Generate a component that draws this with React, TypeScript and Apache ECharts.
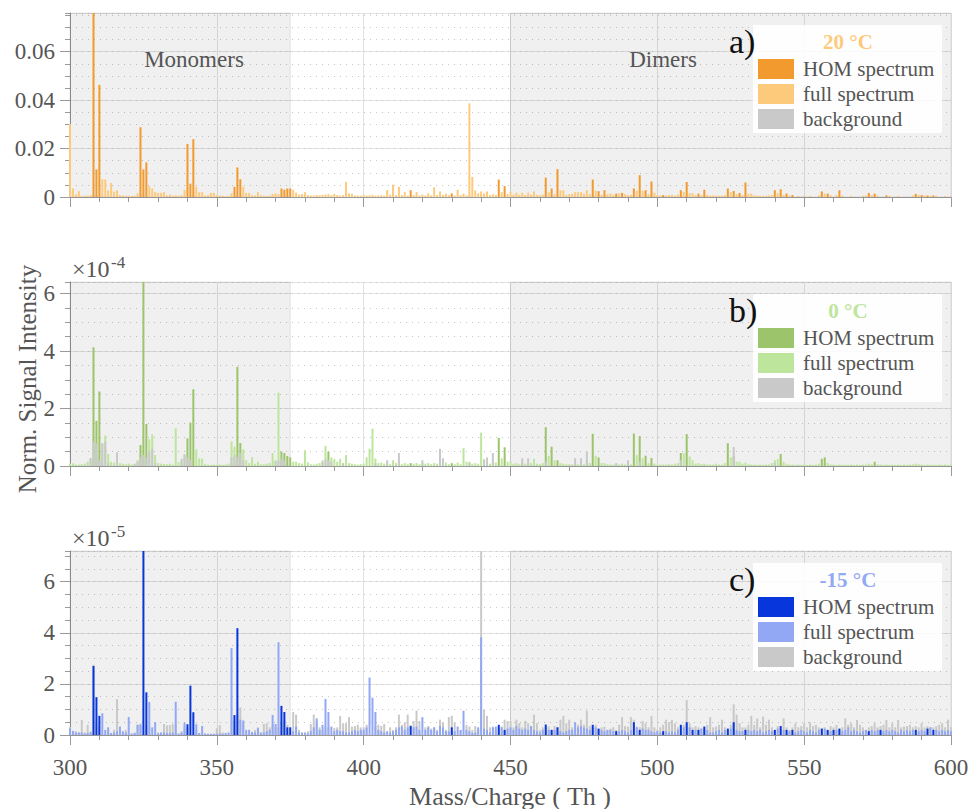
import React, { useEffect, useRef } from "react";
import * as echarts from "echarts";

// ---------- axis / label data ----------
const xMin = 300;
const xMax = 600;
const xMajor = 50;
const legendNames = ["HOM spectrum", "full spectrum", "background"];
const panelLetters = ["a)", "b)", "c)"];
const panelTitles = ["20 °C", "0 °C", "-15 °C"];
const yMaxes = [0.076, 6.4, 7.2];
const yMajorSteps = [0.02, 2, 2];
const yMinorSteps = [0.005, 0.5, 0.5];
const yExponents = ["", "-4", "-5"];
const regionNames = ["Monomers", "Dimers"];
const regionRanges = [
  [300, 375],
  [450, 600],
];

// ---------- panel a (20 °C), absolute values ----------
const aHom = [
  [308, 0.085], [309, 0.0114], [310, 0.0463], [324, 0.0288], [325, 0.0114], [326, 0.0143],
  [340, 0.0219], [341, 0.0055], [342, 0.0239], [356, 0.0042], [357, 0.0122], [358, 0.0073],
  [372, 0.0035], [373, 0.003], [374, 0.0035], [375, 0.0035], [416, 0.0028], [430, 0.0015],
  [446, 0.0072], [448, 0.0045], [462, 0.008], [464, 0.0035], [466, 0.0115], [478, 0.0072],
  [480, 0.0024], [482, 0.0028], [486, 0.0014], [488, 0.0017], [492, 0.0035], [494, 0.009],
  [496, 0.0028], [498, 0.0064], [502, 0.0008], [508, 0.0028], [510, 0.0062], [514, 0.0014],
  [516, 0.003], [524, 0.0035], [526, 0.0025], [528, 0.0017], [530, 0.006], [540, 0.0028],
  [542, 0.0032], [544, 0.0014], [546, 0.0008], [556, 0.0023], [558, 0.0014], [562, 0.0028],
  [572, 0.0017], [574, 0.0014], [578, 0.0007], [588, 0.0013], [590, 0.0008], [592, 0.0006],
  [594, 0.0006],
];
const aFull = [
  [300, 0.0302], [301, 0.0035], [302, 0.0011], [303, 0.0024], [304, 0.0005], [305, 0.0005],
  [306, 0.0006], [307, 0.0008], [311, 0.0073], [312, 0.0073], [313, 0.0028], [314, 0.0058],
  [315, 0.0023], [316, 0.0028], [317, 0.0008], [318, 0.0006], [319, 0.0005], [320, 0.0005],
  [321, 0.0004], [322, 0.0006], [323, 0.0015], [327, 0.0044], [328, 0.0035], [329, 0.002],
  [330, 0.0017], [331, 0.0017], [332, 0.002], [333, 0.0007], [334, 0.001], [335, 0.0005],
  [336, 0.0007], [337, 0.0006], [338, 0.0008], [339, 0.003], [343, 0.0042], [344, 0.002],
  [345, 0.002], [346, 0.0006], [347, 0.0008], [348, 0.0017], [349, 0.0017], [350, 0.0007],
  [351, 0.0006], [352, 0.0005], [353, 0.0004], [354, 0.0005], [355, 0.0015], [359, 0.0042],
  [360, 0.0017], [361, 0.0017], [362, 0.0007], [363, 0.0006], [364, 0.002], [365, 0.0006],
  [366, 0.0005], [367, 0.0004], [368, 0.0006], [369, 0.0013], [370, 0.0015], [371, 0.0012],
  [376, 0.003], [377, 0.0018], [378, 0.001], [379, 0.0012], [380, 0.002], [381, 0.0008],
  [382, 0.0006], [383, 0.0006], [384, 0.0008], [385, 0.0007], [386, 0.0009], [387, 0.001],
  [388, 0.0012], [389, 0.0007], [390, 0.0013], [391, 0.0008], [392, 0.0006], [393, 0.0008],
  [394, 0.0062], [395, 0.0015], [396, 0.0013], [397, 0.0006], [398, 0.0006], [399, 0.0005],
  [400, 0.0008], [401, 0.0006], [402, 0.0007], [403, 0.0009], [404, 0.0005], [405, 0.0006],
  [406, 0.0007], [407, 0.0006], [408, 0.0028], [409, 0.001], [410, 0.0051], [411, 0.0008],
  [412, 0.0042], [413, 0.0008], [414, 0.002], [415, 0.0006], [417, 0.0008], [418, 0.002],
  [419, 0.0006], [420, 0.001], [421, 0.0006], [422, 0.0015], [423, 0.0007], [424, 0.004],
  [425, 0.0008], [426, 0.0023], [427, 0.0009], [428, 0.0014], [429, 0.0007], [431, 0.0006],
  [432, 0.003], [433, 0.0008], [434, 0.0014], [435, 0.0007], [436, 0.0387], [437, 0.0083],
  [438, 0.0027], [439, 0.0015], [440, 0.0023], [441, 0.0015], [442, 0.0023], [443, 0.0008],
  [444, 0.0012], [445, 0.0009], [447, 0.002], [449, 0.0012], [450, 0.002], [451, 0.001],
  [452, 0.0018], [453, 0.0009], [454, 0.0018], [455, 0.0008], [456, 0.0018], [457, 0.001],
  [458, 0.0023], [459, 0.0009], [460, 0.0008], [461, 0.001], [463, 0.002], [465, 0.0012],
  [467, 0.0028], [468, 0.0028], [469, 0.0009], [470, 0.0012], [471, 0.0014], [472, 0.002],
  [473, 0.002], [474, 0.002], [475, 0.0014], [476, 0.0028], [477, 0.0012], [479, 0.0026],
  [481, 0.0009], [483, 0.0012], [484, 0.0015], [485, 0.0009], [487, 0.0015], [489, 0.0012],
  [490, 0.0008], [491, 0.0009], [493, 0.0026], [495, 0.0026], [497, 0.0012], [499, 0.0018],
  [500, 0.0008], [501, 0.0006], [503, 0.0006], [504, 0.0008], [505, 0.0009], [506, 0.0006],
  [507, 0.001], [509, 0.0021], [511, 0.0016], [512, 0.0016], [513, 0.0008], [515, 0.0008],
  [517, 0.0009], [518, 0.0006], [519, 0.0007], [520, 0.0006], [521, 0.0005], [522, 0.0006],
  [523, 0.0008], [525, 0.002], [527, 0.0012], [529, 0.0008], [531, 0.0014], [532, 0.0014],
  [533, 0.0007], [534, 0.0006], [535, 0.0005], [536, 0.0005], [537, 0.0005], [538, 0.0006],
  [539, 0.0008], [541, 0.0016], [543, 0.0009], [545, 0.0006], [548, 0.0004], [550, 0.0005],
  [552, 0.0004], [555, 0.0007], [557, 0.0014], [559, 0.0007], [561, 0.0008], [563, 0.0006],
  [566, 0.0004], [570, 0.0005], [571, 0.0006], [573, 0.0008], [575, 0.0006], [579, 0.0005],
  [582, 0.0004], [587, 0.0006], [589, 0.0008], [591, 0.0006], [593, 0.0005], [595, 0.0005],
  [598, 0.0004],
];
const aBg = [
  [308, 0.0006], [310, 0.0004], [325, 0.0005], [342, 0.0004], [357, 0.0004], [436, 0.0006],
  [440, 0.0008], [510, 0.0003],
];

// ---------- panel b (0 °C), values in 1e-4 ----------
const bHom = [
  [308, 4.13], [309, 1.57], [310, 2.59], [324, 0.73], [325, 6.6], [326, 1.46], [340, 0.96],
  [341, 1.51], [342, 2.67], [357, 3.45], [358, 0.8], [372, 0.5], [373, 0.45], [374, 0.35],
  [375, 0.3], [388, 0.5], [416, 0.1], [430, 0.1], [446, 0.98], [448, 0.65], [462, 1.35],
  [464, 0.67], [466, 0.2], [478, 1.12], [480, 0.3], [492, 1.13], [494, 1.04], [496, 0.36],
  [498, 0.28], [508, 0.45], [510, 1.11], [524, 0.79], [526, 0.35], [542, 0.42], [556, 0.25],
  [557, 0.3], [574, 0.15],
];
const bFull = [
  [300, 0.09], [301, 0.09], [302, 0.05], [303, 0.05], [304, 0.06], [305, 0.08], [306, 0.15],
  [307, 0.27], [311, 0.79], [312, 1.06], [313, 0.42], [314, 0.15], [315, 0.12], [316, 0.47],
  [317, 0.1], [318, 0.08], [319, 0.06], [320, 0.09], [321, 0.05], [322, 0.06], [323, 0.2],
  [327, 0.93], [328, 1.1], [329, 0.38], [330, 0.1], [331, 0.08], [332, 0.07], [333, 0.06],
  [334, 0.08], [335, 0.05], [336, 1.31], [337, 0.13], [338, 0.13], [339, 0.4], [343, 0.58],
  [344, 0.26], [345, 0.26], [346, 0.06], [347, 0.05], [348, 0.04], [349, 0.05], [350, 0.04],
  [351, 0.05], [352, 0.04], [353, 0.05], [354, 0.08], [355, 0.85], [356, 0.67], [359, 0.58],
  [360, 0.2], [361, 0.1], [362, 0.3], [363, 0.08], [364, 0.15], [365, 0.06], [366, 0.06],
  [367, 0.08], [368, 0.1], [369, 0.45], [370, 0.2], [371, 2.55], [376, 0.15], [377, 0.15],
  [378, 0.1], [379, 0.08], [380, 0.55], [381, 0.13], [382, 0.06], [383, 0.05], [384, 0.08],
  [385, 0.1], [386, 0.2], [387, 0.7], [389, 0.3], [390, 0.25], [391, 0.15], [392, 0.25],
  [393, 0.1], [394, 0.38], [395, 0.1], [396, 0.08], [397, 0.06], [398, 0.05], [399, 0.06],
  [400, 0.08], [401, 0.3], [402, 0.6], [403, 1.3], [404, 0.26], [405, 0.1], [406, 0.12],
  [407, 0.08], [408, 0.1], [409, 0.06], [410, 0.2], [411, 0.1], [412, 0.15], [413, 0.06],
  [414, 0.1], [415, 0.06], [417, 0.08], [418, 0.1], [419, 0.06], [420, 0.1], [421, 0.08],
  [422, 0.1], [423, 0.06], [424, 0.1], [425, 0.08], [426, 0.35], [427, 0.15], [428, 0.12],
  [429, 0.06], [431, 0.06], [432, 0.12], [433, 0.06], [434, 0.62], [435, 0.15], [436, 0.15],
  [437, 0.08], [438, 0.1], [439, 0.08], [440, 1.16], [441, 0.24], [442, 0.2], [443, 0.08],
  [444, 0.15], [445, 0.12], [447, 0.27], [449, 0.15], [450, 0.15], [451, 0.08], [452, 0.1],
  [453, 0.06], [454, 0.1], [455, 0.08], [456, 0.12], [457, 0.1], [458, 0.25], [459, 0.08],
  [460, 0.06], [461, 0.1], [463, 0.35], [465, 0.2], [467, 0.1], [468, 0.08], [469, 0.06],
  [470, 0.06], [471, 0.06], [472, 0.08], [473, 0.06], [474, 0.08], [475, 0.06], [476, 0.2],
  [477, 0.1], [479, 0.36], [481, 0.1], [482, 0.1], [483, 0.06], [484, 0.05], [485, 0.05],
  [486, 0.08], [487, 0.05], [488, 0.08], [489, 0.05], [490, 0.08], [491, 0.06], [493, 0.38],
  [495, 0.27], [497, 0.1], [499, 0.08], [500, 0.05], [501, 0.05], [502, 0.05], [503, 0.05],
  [504, 0.06], [505, 0.05], [506, 0.08], [507, 0.1], [509, 0.45], [511, 0.33], [512, 0.2],
  [513, 0.08], [514, 0.1], [515, 0.06], [516, 0.08], [517, 0.05], [518, 0.05], [519, 0.05],
  [520, 0.08], [521, 0.05], [522, 0.05], [523, 0.1], [525, 0.3], [527, 0.15], [528, 0.15],
  [529, 0.08], [530, 0.12], [531, 0.06], [532, 0.05], [533, 0.05], [534, 0.04], [535, 0.05],
  [536, 0.04], [537, 0.05], [538, 0.05], [539, 0.1], [540, 0.2], [541, 0.24], [543, 0.15],
  [544, 0.08], [545, 0.05], [546, 0.05], [547, 0.04], [548, 0.05], [549, 0.04], [550, 0.05],
  [551, 0.04], [552, 0.05], [553, 0.04], [554, 0.05], [555, 0.08], [558, 0.1], [559, 0.05],
  [560, 0.05], [561, 0.04], [562, 0.05], [563, 0.04], [564, 0.05], [565, 0.04], [566, 0.05],
  [567, 0.04], [568, 0.05], [569, 0.04], [570, 0.05], [571, 0.05], [572, 0.08], [573, 0.06],
  [575, 0.06], [576, 0.05], [577, 0.04], [578, 0.05], [579, 0.04], [580, 0.05], [581, 0.04],
  [582, 0.05], [583, 0.04], [584, 0.05], [585, 0.04], [586, 0.05], [587, 0.06], [588, 0.08],
  [589, 0.06], [590, 0.05], [591, 0.04], [592, 0.05], [593, 0.04], [594, 0.05], [595, 0.04],
  [596, 0.05], [597, 0.04], [598, 0.05], [599, 0.04], [600, 0.05],
];
const bBg = [
  [307, 0.27], [308, 0.85], [309, 0.79], [310, 0.2], [311, 0.79], [312, 0.85], [313, 0.1],
  [316, 0.47], [322, 0.08], [323, 0.15], [324, 0.3], [325, 0.38], [326, 0.3], [327, 0.5],
  [328, 0.6], [329, 0.1], [338, 0.25], [339, 0.4], [340, 0.3], [341, 0.2], [355, 0.3],
  [356, 0.38], [357, 0.3], [358, 0.45], [359, 0.2], [370, 0.15], [371, 0.2], [372, 0.25],
  [373, 0.2], [386, 0.15], [387, 0.25], [388, 0.2], [389, 0.15], [393, 0.1], [404, 0.1],
  [408, 0.2], [412, 0.45], [420, 0.2], [426, 0.6], [427, 0.27], [436, 0.1], [441, 0.2],
  [442, 0.3], [444, 0.45], [454, 0.27], [456, 0.27], [462, 0.15], [472, 0.27], [474, 0.27],
  [476, 0.5], [486, 0.1], [490, 0.2], [494, 0.15], [508, 0.2], [526, 0.66], [540, 0.1],
];

// ---------- panel c (-15 °C), values in 1e-5 ----------
const cHom = [
  [308, 2.7], [309, 1.48], [310, 0.75], [325, 7.6], [326, 1.67], [340, 0.42], [341, 1.93],
  [342, 0.89], [356, 0.78], [357, 4.18], [372, 1.14], [373, 0.9], [374, 0.3], [375, 0.3],
  [416, 0.35], [430, 0.3], [446, 0.4], [448, 0.2], [462, 0.41], [464, 0.2], [466, 0.3],
  [478, 0.4], [480, 0.25], [486, 0.15], [492, 0.5], [494, 0.2], [502, 0.15], [508, 0.4],
  [510, 0.5], [512, 0.2], [514, 0.2], [516, 0.33], [524, 0.25], [526, 0.5], [530, 0.2],
  [540, 0.2], [542, 0.35], [544, 0.2], [546, 0.2], [556, 0.25], [558, 0.2], [560, 0.2],
  [562, 0.25], [572, 0.15], [576, 0.2], [588, 0.2], [592, 0.25], [594, 0.2],
];
const cFull = [
  [300, 0.26], [301, 0.16], [302, 0.1], [303, 0.1], [304, 0.1], [305, 0.06], [306, 0.08],
  [307, 0.1], [311, 0.85], [312, 0.2], [313, 0.3], [314, 0.08], [315, 0.1], [316, 0.15],
  [317, 0.33], [318, 0.15], [319, 0.1], [320, 0.7], [321, 0.06], [322, 0.08], [323, 0.4],
  [324, 0.4], [327, 1.29], [328, 0.3], [329, 0.5], [330, 0.06], [331, 0.1], [332, 0.1],
  [333, 0.08], [334, 0.08], [335, 0.1], [336, 1.3], [337, 0.06], [338, 0.1], [339, 0.48],
  [343, 0.42], [344, 0.08], [345, 0.35], [346, 0.06], [347, 0.05], [348, 0.05], [349, 0.05],
  [350, 0.05], [351, 0.06], [352, 0.05], [353, 0.08], [354, 0.1], [355, 3.4], [358, 0.6],
  [359, 0.57], [360, 0.2], [361, 0.2], [362, 0.12], [363, 0.1], [364, 0.27], [365, 0.1],
  [366, 0.1], [367, 0.15], [368, 0.2], [369, 0.78], [370, 0.43], [371, 3.63], [376, 0.15],
  [377, 0.33], [378, 0.1], [379, 0.1], [380, 0.1], [381, 0.06], [382, 0.15], [383, 0.3],
  [384, 0.65], [385, 0.2], [386, 0.4], [387, 1.41], [388, 0.9], [389, 0.33], [390, 0.15],
  [391, 0.2], [392, 0.15], [393, 0.15], [394, 0.1], [395, 0.1], [396, 0.15], [397, 0.2],
  [398, 0.15], [399, 0.2], [400, 0.2], [401, 0.3], [402, 2.25], [403, 1.46], [404, 0.9],
  [405, 0.2], [406, 0.15], [407, 0.1], [408, 0.15], [409, 0.1], [410, 0.15], [411, 0.2],
  [412, 0.3], [413, 0.33], [414, 0.2], [415, 0.3], [417, 0.3], [418, 0.33], [419, 0.2],
  [420, 0.7], [421, 0.2], [422, 0.3], [423, 0.2], [424, 0.3], [425, 0.15], [426, 0.35],
  [427, 0.3], [428, 0.15], [429, 0.15], [431, 0.15], [432, 0.33], [433, 0.2], [434, 0.95],
  [435, 0.2], [436, 0.15], [437, 0.08], [438, 0.1], [439, 0.3], [440, 3.82], [441, 0.25],
  [442, 0.2], [443, 0.1], [444, 0.3], [445, 0.33], [447, 0.3], [449, 0.25], [450, 0.3],
  [451, 0.2], [452, 0.35], [453, 0.25], [454, 0.2], [455, 0.25], [456, 0.2], [457, 0.35],
  [458, 0.2], [459, 0.15], [460, 0.1], [461, 0.2], [463, 0.2], [465, 0.2], [467, 0.15],
  [468, 0.1], [469, 0.15], [470, 0.2], [471, 0.2], [472, 0.5], [473, 0.3], [474, 0.35],
  [475, 0.3], [476, 0.25], [477, 0.2], [479, 0.3], [481, 0.2], [482, 0.15], [483, 0.2],
  [484, 0.2], [485, 0.15], [487, 0.15], [488, 0.2], [489, 0.15], [490, 0.1], [491, 0.2],
  [493, 0.3], [495, 0.25], [496, 0.2], [497, 0.2], [498, 0.15], [499, 0.1], [500, 0.15],
  [501, 0.1], [503, 0.15], [504, 0.1], [505, 0.15], [506, 0.1], [507, 0.2], [509, 0.3],
  [511, 0.3], [513, 0.2], [515, 0.25], [517, 0.2], [518, 0.1], [519, 0.1], [520, 0.15],
  [521, 0.2], [522, 0.1], [523, 0.2], [525, 0.25], [527, 0.2], [528, 0.15], [529, 0.15],
  [531, 0.2], [532, 0.15], [533, 0.2], [534, 0.15], [535, 0.2], [536, 0.1], [537, 0.15],
  [538, 0.2], [539, 0.15], [541, 0.25], [543, 0.2], [545, 0.15], [547, 0.1], [548, 0.15],
  [549, 0.2], [550, 0.15], [551, 0.1], [552, 0.2], [553, 0.15], [554, 0.1], [555, 0.2],
  [557, 0.25], [559, 0.15], [561, 0.2], [563, 0.15], [564, 0.2], [565, 0.3], [566, 0.15],
  [567, 0.2], [568, 0.15], [569, 0.1], [570, 0.15], [571, 0.2], [573, 0.2], [574, 0.15],
  [575, 0.2], [577, 0.15], [578, 0.2], [579, 0.15], [580, 0.2], [581, 0.15], [582, 0.1],
  [583, 0.2], [584, 0.15], [585, 0.2], [586, 0.15], [587, 0.2], [589, 0.15], [590, 0.2],
  [591, 0.15], [593, 0.3], [595, 0.2], [596, 0.15], [597, 0.2], [598, 0.15], [599, 0.2],
  [600, 0.15],
];
const cBg = [
  [300, 0.3], [302, 0.15], [303, 0.1], [304, 0.59], [305, 0.1], [306, 0.4], [307, 0.15],
  [308, 2.75], [309, 0.46], [310, 0.33], [313, 0.2], [315, 0.2], [316, 1.4], [317, 0.1],
  [319, 0.2], [322, 0.1], [323, 0.4], [324, 0.45], [326, 0.4], [327, 0.3], [330, 0.1],
  [332, 0.43], [333, 0.38], [334, 0.38], [335, 0.43], [336, 0.4], [338, 0.15], [339, 0.3],
  [340, 0.3], [343, 0.2], [350, 0.26], [351, 0.38], [352, 0.1], [355, 0.6], [356, 0.55],
  [357, 0.8], [358, 1.08], [359, 0.4], [363, 0.2], [364, 0.3], [366, 0.43], [367, 0.46],
  [368, 0.3], [369, 0.4], [370, 0.3], [371, 0.3], [372, 0.5], [373, 0.6], [374, 0.4],
  [376, 0.9], [377, 0.8], [378, 0.2], [381, 0.15], [382, 0.43], [383, 0.8], [384, 0.5],
  [385, 0.3], [386, 0.2], [387, 0.3], [388, 0.3], [390, 0.28], [391, 0.3], [392, 0.75],
  [393, 0.46], [394, 0.46], [395, 0.7], [396, 0.33], [397, 0.35], [398, 0.4], [399, 0.3],
  [400, 0.3], [401, 0.4], [404, 0.35], [405, 0.4], [406, 0.35], [407, 0.43], [409, 0.3],
  [410, 0.2], [411, 0.3], [412, 0.8], [413, 0.4], [414, 0.5], [415, 0.8], [416, 0.4],
  [417, 0.55], [418, 0.95], [419, 0.55], [421, 0.3], [422, 0.35], [423, 0.25], [424, 0.3],
  [425, 0.2], [426, 0.6], [427, 0.5], [428, 0.2], [429, 0.7], [430, 0.75], [431, 0.5],
  [433, 0.2], [435, 0.4], [436, 0.33], [437, 0.2], [438, 0.35], [439, 0.2], [440, 7.6],
  [441, 1.0], [442, 0.75], [443, 0.3], [444, 0.33], [445, 0.2], [446, 0.3], [447, 0.33],
  [448, 0.6], [449, 0.55], [450, 0.55], [451, 0.3], [452, 0.6], [453, 0.46], [454, 0.3],
  [455, 0.55], [456, 0.46], [457, 0.3], [458, 0.8], [459, 0.46], [460, 0.2], [461, 0.3],
  [462, 0.3], [463, 0.33], [464, 0.2], [465, 0.35], [466, 0.3], [467, 0.6], [468, 0.75],
  [469, 0.46], [470, 0.6], [471, 0.3], [472, 0.3], [473, 0.4], [474, 0.6], [475, 0.4],
  [476, 0.95], [477, 0.35], [478, 0.3], [479, 0.4], [480, 0.2], [481, 0.3], [482, 0.33],
  [483, 0.2], [484, 0.25], [485, 0.3], [486, 0.2], [487, 0.4], [488, 0.7], [489, 0.35],
  [490, 0.33], [491, 0.7], [492, 0.6], [493, 0.33], [494, 0.3], [495, 0.55], [496, 0.46],
  [497, 0.3], [498, 0.75], [499, 0.3], [500, 0.2], [501, 0.3], [502, 0.4], [503, 0.6],
  [504, 0.5], [505, 0.59], [506, 0.46], [507, 0.3], [508, 0.35], [509, 0.4], [510, 1.37],
  [511, 0.46], [512, 0.3], [513, 0.35], [514, 0.3], [515, 0.25], [516, 0.2], [517, 0.4],
  [518, 0.7], [519, 0.3], [520, 0.33], [521, 0.4], [522, 0.6], [523, 0.3], [524, 0.2],
  [525, 0.4], [526, 1.2], [527, 0.8], [528, 0.46], [529, 0.3], [530, 0.3], [531, 0.4],
  [532, 0.75], [533, 0.4], [534, 0.65], [535, 0.3], [536, 0.72], [537, 0.4], [538, 0.6],
  [539, 0.3], [540, 0.2], [541, 0.35], [542, 0.3], [543, 0.65], [544, 0.3], [545, 0.2],
  [546, 0.3], [547, 0.46], [548, 0.3], [549, 0.35], [550, 0.46], [551, 0.3], [552, 0.5],
  [553, 0.35], [554, 0.4], [555, 0.3], [556, 0.25], [557, 0.3], [558, 0.2], [559, 0.35],
  [560, 0.3], [561, 0.4], [562, 0.2], [563, 0.3], [564, 0.65], [565, 0.4], [566, 0.46],
  [567, 0.3], [568, 0.59], [569, 0.4], [570, 0.3], [571, 0.2], [572, 0.3], [573, 0.35],
  [574, 0.46], [575, 0.3], [576, 0.35], [577, 0.4], [578, 0.59], [579, 0.3], [580, 0.46],
  [581, 0.3], [582, 0.59], [583, 0.3], [584, 0.33], [585, 0.35], [586, 0.4], [587, 0.3],
  [588, 0.35], [589, 0.3], [590, 0.46], [591, 0.3], [592, 0.35], [593, 0.3], [594, 0.3],
  [595, 0.35], [596, 0.4], [597, 0.46], [598, 0.3], [599, 0.6], [600, 0.3],
];

// ---------- styling ----------
const FONT = '"Liberation Serif", "Times New Roman", serif';
const TEXT = "#555555";
const AXIS = "#9a9a9a";
const BG_COLOR = "#c9c9c9";
const homColors = ["#f29a2e", "#9cc46b", "#0636dc"];
const fullColors = ["#fdca7c", "#bde59b", "#93a8f4"];
const gridTops = [13, 282, 551];
const GRID_H = 184;
const GRID_LEFT = 70;
const GRID_RIGHT = 21;

const homData = [aHom, bHom, cHom];
const fullData = [aFull, bFull, cFull];
const bgData = [aBg, bBg, cBg];
const bgOnTop = [false, true, false];

function buildOption(): any {
  const grid = gridTops.map((t) => ({
    left: GRID_LEFT,
    right: GRID_RIGHT,
    top: t,
    height: GRID_H,
    containLabel: false,
  }));

  const xAxis = gridTops.map((_, i) => ({
    type: "value",
    gridIndex: i,
    min: xMin,
    max: xMax,
    interval: xMajor,
    axisLine: { show: true, onZero: false, lineStyle: { color: AXIS, width: 1 } },
    axisTick: { show: true, length: 10, lineStyle: { color: AXIS } },
    minorTick: { show: true, splitNumber: 5, length: 5, lineStyle: { color: AXIS } },
    axisLabel: {
      show: i === 2,
      fontSize: 23,
      fontFamily: FONT,
      color: TEXT,
      margin: 21,
    },
    splitLine: { show: true, lineStyle: { color: "#e2e2e2", width: 1 } },
  }));

  const yAxis: any[] = [];
  gridTops.forEach((_, i) => {
    yAxis.push({
      type: "value",
      gridIndex: i,
      position: "left",
      min: 0,
      max: yMaxes[i],
      interval: yMajorSteps[i],
      axisLine: { show: true, lineStyle: { color: AXIS, width: 1 } },
      axisTick: { show: true, length: 10, lineStyle: { color: AXIS } },
      axisLabel: {
        fontSize: 23,
        fontFamily: FONT,
        color: TEXT,
        margin: 15,
        showMaxLabel: false,
      },
      splitLine: { show: true, lineStyle: { color: "#e4e4e4", width: 1 } },
    });
    yAxis.push({
      type: "value",
      gridIndex: i,
      position: "left",
      offset: 0,
      min: 0,
      max: yMaxes[i],
      interval: yMinorSteps[i],
      axisLine: { show: false },
      axisTick: { show: true, length: 5, lineStyle: { color: AXIS } },
      axisLabel: { show: false },
      splitLine: { show: true, lineStyle: { color: "#c6c6c6", width: 1, type: [1, 5] } },
    });
  });

  const series: any[] = [];
  gridTops.forEach((_, i) => {
    series.push({
      type: "line",
      name: "regions" + i,
      xAxisIndex: i,
      yAxisIndex: 2 * i,
      data: [],
      silent: true,
      z: 1,
      markArea: {
        silent: true,
        itemStyle: {
          color: "rgba(0,0,0,0.06)",
          borderColor: "rgba(0,0,0,0.09)",
          borderWidth: 1,
        },
        data: regionRanges.map((r) => [{ xAxis: r[0] }, { xAxis: r[1] }]),
      },
    });
    const mk = (name: string, data: number[][], color: string) => ({
      type: "bar",
      name: name + " " + panelTitles[i],
      xAxisIndex: i,
      yAxisIndex: 2 * i,
      data,
      barWidth: 2,
      barGap: "-100%",
      silent: true,
      z: 2,
      itemStyle: { color },
    });
    const bg = mk(legendNames[2], bgData[i], BG_COLOR);
    const full = mk(legendNames[1], fullData[i], fullColors[i]);
    const hom = mk(legendNames[0], homData[i], homColors[i]);
    if (bgOnTop[i]) series.push(full, hom, bg);
    else series.push(bg, full, hom);
  });

  const elements: any[] = [];
  // region labels (panel a)
  elements.push({
    type: "text",
    x: 194,
    y: 59,
    z: 20,
    style: { text: regionNames[0], fill: TEXT, fontSize: 23, fontFamily: FONT, align: "center", verticalAlign: "middle" },
  });
  elements.push({
    type: "text",
    x: 663,
    y: 59,
    z: 20,
    style: { text: regionNames[1], fill: TEXT, fontSize: 23, fontFamily: FONT, align: "center", verticalAlign: "middle" },
  });

  gridTops.forEach((t, i) => {
    const swatchColors = [homColors[i], fullColors[i], BG_COLOR];
    elements.push({
      type: "rect",
      shape: { x: 753, y: t + 12, width: 189, height: 108 },
      style: { fill: "rgba(255,255,255,0.88)" },
      z: 50,
    });
    elements.push({
      type: "text",
      x: 848,
      y: t + 29,
      z: 51,
      style: {
        text: panelTitles[i],
        fill: fullColors[i],
        fontSize: 21,
        fontWeight: "bold",
        fontFamily: FONT,
        align: "center",
        verticalAlign: "middle",
      },
    });
    legendNames.forEach((nm, k) => {
      elements.push({
        type: "rect",
        shape: { x: 758, y: t + 46 + 25 * k, width: 36, height: 20 },
        style: { fill: swatchColors[k] },
        z: 51,
      });
      elements.push({
        type: "text",
        x: 803,
        y: t + 56 + 25 * k,
        z: 51,
        style: { text: nm, fill: TEXT, fontSize: 21, fontFamily: FONT, align: "left", verticalAlign: "middle" },
      });
    });
    elements.push({
      type: "text",
      x: 729,
      y: t + 28,
      z: 52,
      style: { text: panelLetters[i], fill: "#111111", fontSize: 34, fontFamily: FONT, align: "left", verticalAlign: "middle" },
    });
    if (yExponents[i]) {
      elements.push({
        type: "text",
        x: 72,
        y: t - 13,
        z: 20,
        style: { text: "×10", fill: TEXT, fontSize: 24, fontFamily: FONT, align: "left", verticalAlign: "middle" },
      });
      elements.push({
        type: "text",
        x: 111,
        y: t - 20,
        z: 20,
        style: { text: yExponents[i], fill: TEXT, fontSize: 17, fontFamily: FONT, align: "left", verticalAlign: "middle" },
      });
    }
  });

  elements.push({
    type: "text",
    x: 27,
    y: 379,
    rotation: Math.PI / 2,
    z: 20,
    style: { text: "Norm. Signal Intensity", fill: TEXT, fontSize: 25, fontFamily: FONT, align: "center", verticalAlign: "middle" },
  });
  elements.push({
    type: "text",
    x: 510,
    y: 796,
    z: 20,
    style: { text: "Mass/Charge ( Th )", fill: TEXT, fontSize: 26, fontFamily: FONT, align: "center", verticalAlign: "middle" },
  });

  return {
    animation: false,
    backgroundColor: "#ffffff",
    grid,
    xAxis,
    yAxis,
    series,
    graphic: { elements },
  };
}

export default function App() {
  const ref = useRef<HTMLDivElement>(null);
  useEffect(() => {
    document.body.style.margin = "0";
    const chart = echarts.init(ref.current as HTMLDivElement, null, { renderer: "svg" });
    chart.setOption(buildOption());
    return () => {
      chart.dispose();
    };
  }, []);
  return <div ref={ref} style={{ width: 972, height: 809 }} />;
}
